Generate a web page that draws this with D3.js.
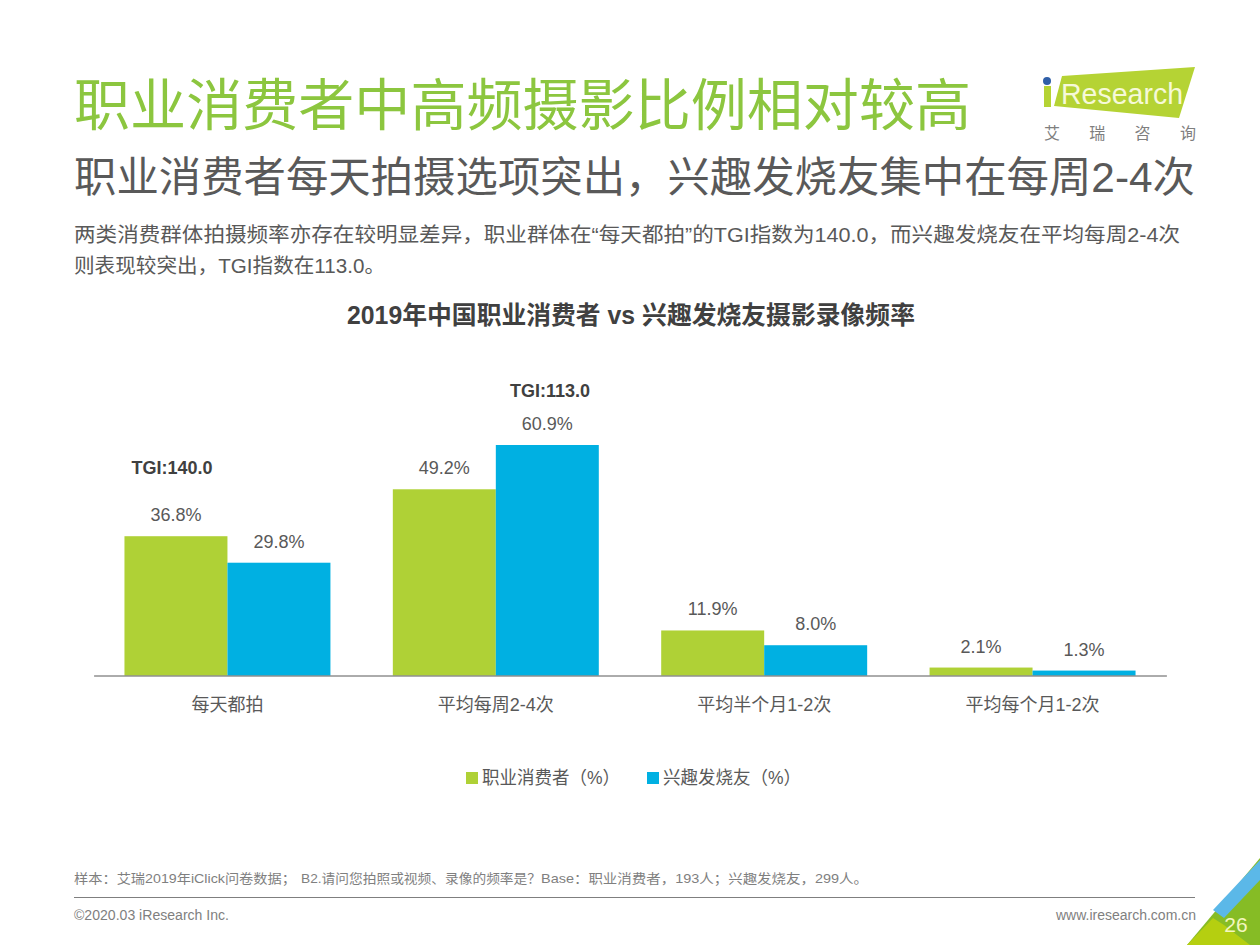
<!DOCTYPE html>
<html><head><meta charset="utf-8">
<script src="https://cdn.jsdelivr.net/npm/d3@7"></script>
<style>html,body{margin:0;padding:0;background:#fff}svg{display:block}text{font-family:"Liberation Sans","Noto Sans CJK SC",sans-serif}</style>
</head><body><div id="c"></div>
<script>
const categories=["每天都拍","平均每周2-4次","平均半个月1-2次","平均每个月1-2次"];
const seriesNames=["职业消费者（%）","兴趣发烧友（%）"];
const professional=[36.8,49.2,11.9,2.1];
const enthusiast=[29.8,60.9,8.0,1.3];
const tgiLabels=["TGI:140.0","TGI:113.0",null,null];
const colors=["#AFD136","#00B0E2"];
const W=1260,H=945;
const svg=d3.select("#c").append("svg").attr("width",W).attr("height",H);
function t(x,y,s,size,fill,opt={}){
  const e=svg.append("text").attr("x",x).attr("y",y).attr("font-size",size).attr("fill",fill)
    .attr("text-anchor",opt.anchor||"start").attr("font-weight",opt.weight||400).text(s);
  if(opt.len)e.attr("textLength",opt.len).attr("lengthAdjust","spacingAndGlyphs");
  return e;
}
t(74,125,"职业消费者中高频摄影比例相对较高",56,"#8CC63F",{len:897});
t(74,192,"职业消费者每天拍摄选项突出，兴趣发烧友集中在每周2-4次",42,"#595959",{len:1121});
t(74,242,"两类消费群体拍摄频率亦存在较明显差异，职业群体在“每天都拍”的TGI指数为140.0，而兴趣发烧友在平均每周2-4次",20,"#595959",{len:1106});
t(74,273,"则表现较突出，TGI指数在113.0。",20,"#595959",{len:311});
t(631,324,"2019年中国职业消费者 vs 兴趣发烧友摄影录像频率",25,"#404040",{anchor:"middle",weight:700,len:568});

// logo
svg.append("path").attr("d","M1062 76L1195 67L1179 118L1054 106Z").attr("fill","#B5D334");
svg.append("rect").attr("x",1044).attr("y",86).attr("width",7).attr("height",21).attr("fill","#B5D334");
svg.append("circle").attr("cx",1047).attr("cy",81).attr("r",4).attr("fill","#2F5FA8");
t(1061,104,"Research",29,"#F6F9D8",{len:122});
["艾","瑞","咨","询"].forEach((c,i)=>t(1052+i*45.3,139,c,16,"#7F7F7F",{anchor:"middle"}));

// chart
const x0=d3.scaleBand().domain(categories).range([93.6,1166.4]).paddingInner(0.2325).paddingOuter(0.115);
const x1=d3.scaleBand().domain([0,1]).range([0,x0.bandwidth()]);
const y=d3.scaleLinear().domain([0,60.9]).range([675.5,445]);
[professional,enthusiast].forEach((vals,s)=>{
  const g=svg.append("g");
  g.selectAll("rect").data(vals).join("rect")
    .attr("x",(d,i)=>x0(categories[i])+x1(s)).attr("y",d=>y(d))
    .attr("width",x1.bandwidth()).attr("height",d=>y(0)-y(d)).attr("fill",colors[s]);
  g.selectAll("text").data(vals).join("text")
    .attr("x",(d,i)=>x0(categories[i])+x1(s)+x1.bandwidth()/2).attr("y",d=>y(d)-15)
    .attr("text-anchor","middle").attr("font-size",18).attr("fill","#595959").text(d=>d.toFixed(1)+"%");
});
const axis=d3.axisBottom(x0).tickSize(0).tickPadding(23);
const ag=svg.append("g").attr("transform","translate(0,675.5)").call(axis);
ag.select(".domain").attr("stroke","#595959").attr("stroke-width",1);
ag.selectAll("text").attr("font-size",18).attr("fill","#595959").style("font-family",'"Liberation Sans","Noto Sans CJK SC",sans-serif');
// TGI labels
categories.forEach((c,i)=>{ if(tgiLabels[i]){
  t(i===0?172:550,i===0?474:397,tgiLabels[i],18,"#404040",{anchor:"middle",weight:700});
}});
// legend
const lx=[466,647];
seriesNames.forEach((n,i)=>{
  svg.append("rect").attr("x",lx[i]).attr("y",772).attr("width",12).attr("height",12).attr("fill",colors[i]);
  t(lx[i]+16,784,n,18,"#595959",{len:138});
});
// footer
t(74,883,"样本：艾瑞2019年iClick问卷数据；",13,"#7F7F7F",{len:222});
t(301,883,"B2.请问您拍照或视频、录像的频率是？",13,"#7F7F7F",{len:240});
t(541,883,"Base：职业消费者，193人；兴趣发烧友，299人。",13,"#7F7F7F",{len:327});
svg.append("line").attr("x1",74).attr("x2",1195).attr("y1",897.5).attr("y2",897.5).attr("stroke","#7F7F7F");
t(74,920,"©2020.03 iResearch Inc.",14,"#7F7F7F",{len:155});
t(1196,920,"www.iresearch.com.cn",14,"#7F7F7F",{anchor:"end"});
// corner
svg.append("path").attr("d","M1260 858L1260 945L1187 945Z").attr("fill","#86BC25");
svg.append("path").attr("d","M1260 860L1260 880L1224 918L1213 910Z").attr("fill","#5BB8E8");
svg.append("path").attr("d","M1250 945L1187 945L1213 918L1224 925Z").attr("fill","#B5CF10");
t(1236,932,"26",21,"#F4F7C0",{anchor:"middle"});
</script></body></html>
